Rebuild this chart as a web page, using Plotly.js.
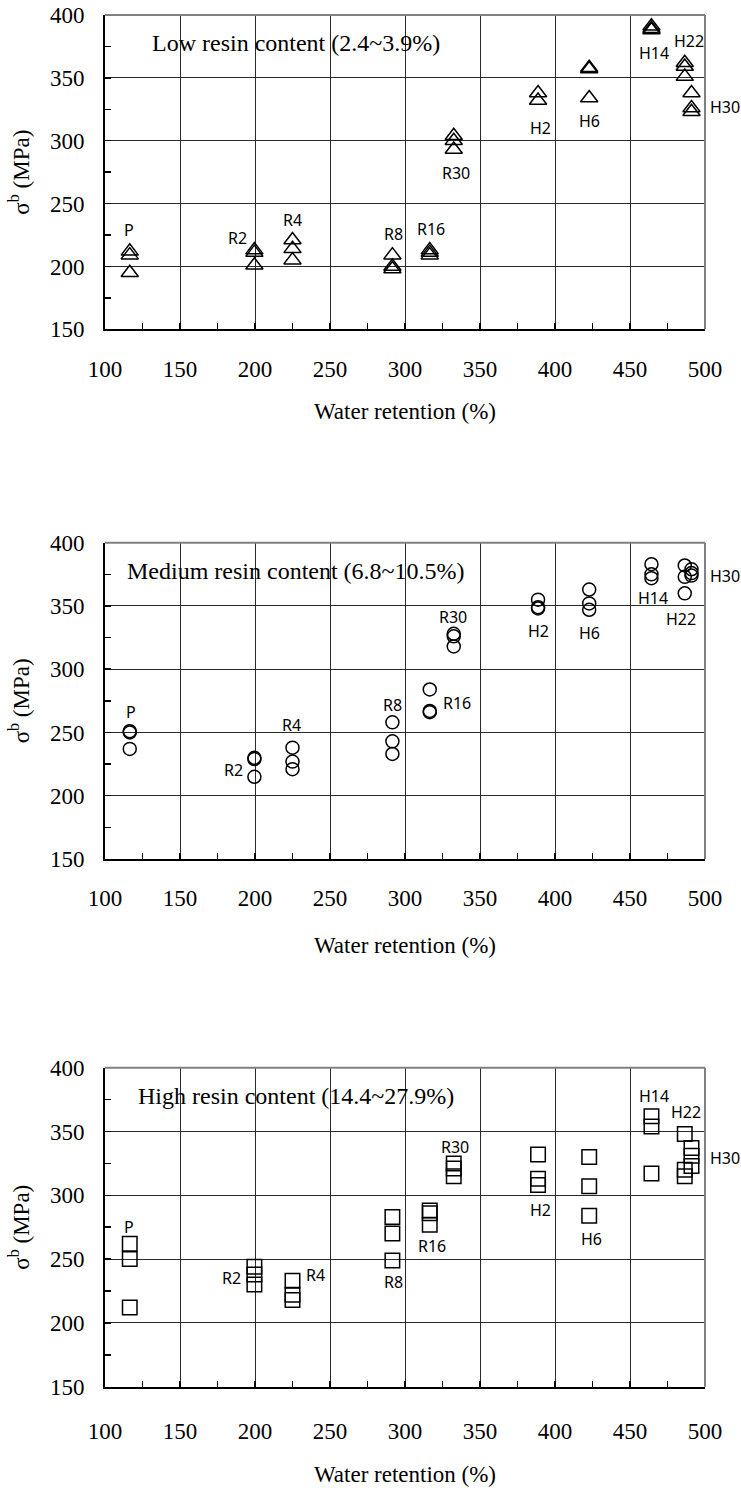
<!DOCTYPE html>
<html>
<head>
<meta charset="utf-8">
<script src="https://cdn.plot.ly/plotly-3.0.1.min.js"></script>
<style>html,body{margin:0;padding:0;background:#fff;}#chart{width:741px;height:1488px;}</style>
</head>
<body>
<div id="chart"></div>
<script>
// ---- data ----
const groups = ['P','R2','R4','R8','R16','R30','H2','H6','H14','H22','H30'];
const waterRetention = [116.5, 199.6, 225, 291.6, 316.5, 332.5, 388.7, 422.8, 464.3, 486.5, 491];
const xTicks = [100, 150, 200, 250, 300, 350, 400, 450, 500];
const yTicks = [150, 200, 250, 300, 350, 400];

const lowResin = [
  [212, 209, 195], [213, 211, 201], [221, 214, 205], [209, 200, 198],
  [213, 211, 209], [304, 300, 293], [338, 332], [358, 357, 334],
  [391, 389, 388], [362, 359, 351], [338, 326, 323]
];
const mediumResin = [
  [251, 250, 237], [230, 229, 215], [238, 227, 221], [258, 243, 233],
  [284, 267, 266], [328, 326, 318], [355, 349, 348], [363, 352, 347],
  [383, 375, 372], [382, 373, 360], [379, 376, 374]
];
const highResin = [
  [262, 250, 212], [244, 238, 230], [233, 222, 218], [283, 270, 249],
  [288, 286, 277], [325, 321, 315], [332, 313, 308], [330, 307, 284],
  [362, 354, 317], [348, 320, 315], [337, 331, 323]
];
const panelTitles = [
  'Low resin content (2.4~3.9%)',
  'Medium resin content (6.8~10.5%)',
  'High resin content (14.4~27.9%)'
];

// ---- label placement (layout, not data) ----
const lowLabelPos = [[116,229],[188,223],[225,237],[292,226],[317,230],[334,274],[390,310],[423,316],[466,370],[489,379],[491,327]];
const medLabelPos = [[117,266],[185.5,220],[224.4,256],[291.6,272],[334.7,273],[332,341.5],[389.3,330],[423.3,328.4],[465,356.5],[484,340],[491,374]];
const highLabelPos = [[116,275],[184,235],[240.4,237.5],[292,232],[317.8,260],[333,338],[390,288.5],[424.4,266],[466,378],[487.3,365],[491,329.5]];

// ---- build ----
const W = 741, H = 1488;
const xDom = [105 / W, 705 / W];
const yDoms = [
  [1 - 329.3 / H, 1 - 15 / H],
  [1 - 859 / H, 1 - 542.7 / H],
  [1 - 1386.7 / H, 1 - 1067.7 / H]
];
const tickStandoffs = [18, 17, 23];
const titleStandoffs = [22, 27, 23];
const symbols = ['triangle-up-open', 'circle-open', 'square-open'];
const msizes = [15, 13, 14.5];
const datasets = [lowResin, mediumResin, highResin];
const labelSets = [lowLabelPos, medLabelPos, highLabelPos];

const serif = "'Liberation Serif', 'Times New Roman', serif";
const sans = "'Noto Sans', 'DejaVu Sans', sans-serif";

const traces = [];
const annotations = [];
const shapes = [];
const layout = {
  width: W, height: H,
  margin: {l: 0, r: 0, t: 0, b: 0},
  paper_bgcolor: '#fff', plot_bgcolor: '#fff',
  font: {family: serif, size: 23, color: '#000'},
  showlegend: false
};

datasets.forEach((ds, p) => {
  const xs = [], ys = [];
  ds.forEach((vals, g) => {
    vals.forEach(v => { xs.push(waterRetention[g]); ys.push(v); });
  });
  const xn = p === 0 ? '' : String(p + 1);
  traces.push({
    type: 'scatter', mode: 'markers', x: xs, y: ys,
    xaxis: 'x' + xn, yaxis: 'y' + xn,
    marker: {symbol: symbols[p], size: msizes[p], color: '#000', line: {color: '#000', width: 1.5}},
    cliponaxis: false, hoverinfo: 'x+y'
  });
  const mk = () => ({
    showgrid: true, gridcolor: '#2a2a2a', gridwidth: 1,
    showline: true, linecolor: '#000', linewidth: 2,
    ticks: 'inside', ticklen: 6, tickwidth: 1.5, tickcolor: '#000',
    zeroline: false, fixedrange: true,
    tickfont: {family: serif, size: 23, color: '#000'}
  });
  layout['xaxis' + xn] = Object.assign(mk(), {
    domain: xDom, anchor: 'y' + xn, range: [100, 500],
    tickmode: 'array', tickvals: xTicks, ticktext: xTicks.map(String),
    minor: {dtick: 25, tick0: 100, ticks: 'inside', ticklen: 6, tickwidth: 1.5, tickcolor: '#000', showgrid: false},
    ticklabelstandoff: tickStandoffs[p],
    title: {text: 'Water retention (%)', font: {family: serif, size: 23, color: '#000'}, standoff: titleStandoffs[p]}
  });
  layout['yaxis' + xn] = Object.assign(mk(), {
    domain: yDoms[p], anchor: 'x' + xn, range: [150, 400],
    tickmode: 'array', tickvals: yTicks, ticktext: yTicks.map(String),
    minor: {dtick: 25, tick0: 150, ticks: 'inside', ticklen: 6, tickwidth: 1.5, tickcolor: '#000', showgrid: false},
    ticklabelstandoff: 14,
    title: {text: 'σ<sup>b</sup> (MPa)', font: {family: serif, size: 23, color: '#000'}, standoff: 14}
  });
  // grey top/right frame
  shapes.push({type: 'line', xref: 'x' + xn + ' domain', yref: 'y' + xn + ' domain', x0: 0, x1: 1, y0: 1, y1: 1, line: {color: '#808080', width: 2}});
  shapes.push({type: 'line', xref: 'x' + xn + ' domain', yref: 'y' + xn + ' domain', x0: 1, x1: 1, y0: 0, y1: 1, line: {color: '#808080', width: 2}});
  // panel title
  annotations.push({
    xref: 'x' + xn, yref: 'y' + xn, x: 227, y: 378, text: panelTitles[p], showarrow: false,
    font: {family: serif, size: 24, color: '#000'}
  });
  // group labels
  labelSets[p].forEach((pos, g) => {
    annotations.push({
      xref: 'x' + xn, yref: 'y' + xn, x: pos[0], y: pos[1], text: groups[g], showarrow: false,
      xshift: groups[g] === 'H30' ? 33 : 0,
      font: {family: sans, size: 16, color: '#000'}
    });
  });
});
layout.annotations = annotations;
layout.shapes = shapes;

Plotly.newPlot('chart', traces, layout, {displayModeBar: false, staticPlot: true});
</script>
</body>
</html>
